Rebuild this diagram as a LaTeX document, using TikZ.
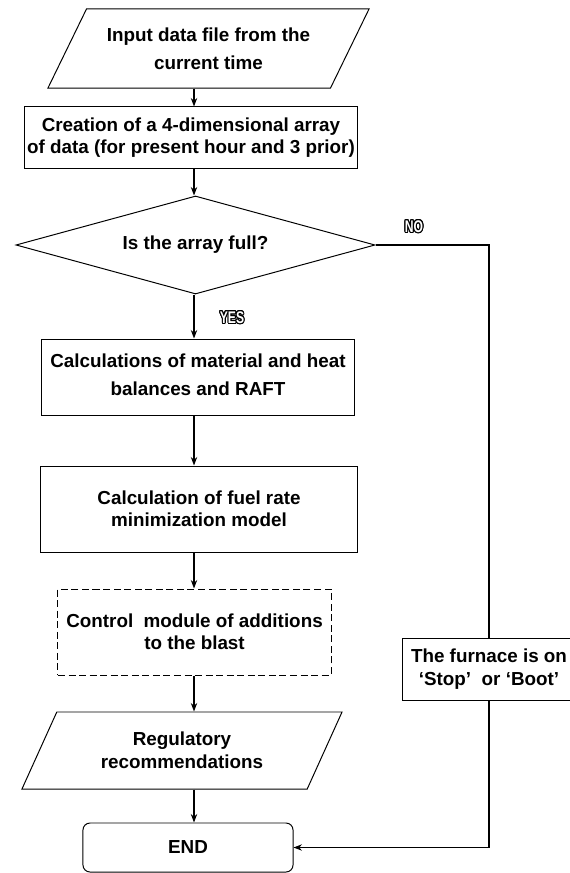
\documentclass[tikz,border=0pt]{standalone}
\usepackage{fontspec}
\setmainfont{Liberation Sans}
\newfontfamily\narrowfont[FakeStretch=0.72]{Liberation Sans}
\usepackage[copies]{contour}
\contourlength{0.7pt}
\contournumber{16}
\usetikzlibrary{shapes.geometric,arrows.meta}

\tikzset{
  box/.style={draw, line width=0.7pt, align=center, inner sep=2pt},
  iobox/.style={box, trapezium, trapezium stretches body=true},
  arr/.style={line width=1.3pt, -{Stealth[length=6pt,width=4.5pt]}},
  line/.style={line width=0.8pt},
  yesno/.style={font=\narrowfont\bfseries\fontsize{12}{12}\selectfont, text=white}
}

\begin{document}
\begin{tikzpicture}[x=0.025cm, y=-0.025cm, font=\bfseries\fontsize{13.4}{16}\selectfont]
\useasboundingbox[fill=white] (0,0) rectangle (570,873);

\coordinate (ax) at (194,0);

\node[iobox, trapezium left angle=51, trapezium right angle=129, minimum width=8.025cm, minimum height=1.975cm, font=\bfseries\fontsize{13.4}{20}\selectfont] (input) at (208.5,48.5) {Input data file from the\\current time};
\node[box, minimum width=8.05cm, minimum height=1.525cm] (create) at (191,137.5) {Creation of a 4-dimensional array\\of data (for present hour and 3 prior)};
\node[box, diamond, aspect=3.66, inner sep=0pt, minimum width=8.975cm, minimum height=2.45cm] (full) at (195.5,245) {Is the array full?};
\node[box, minimum width=7.8cm, minimum height=1.9cm, font=\bfseries\fontsize{13.4}{20}\selectfont] (calc) at (198,377) {Calculations of material and heat\\balances and RAFT\vphantom{g}};
\node[box, minimum width=7.9cm, minimum height=2.15cm] (model) at (199,509) {Calculation of fuel rate\\minimization model};
\node[box, dashed, dash pattern=on 5pt off 2.5pt, minimum width=6.825cm, minimum height=2.15cm] (control) at (194.5,632) {Control\ \ module of additions\\to the blast};
\node[iobox, trapezium left angle=50.3, trapezium right angle=129.7, minimum width=8cm, minimum height=1.925cm] (regul) at (182,750.5) {Regulatory\\recommendations};
\node[box, rounded corners=5pt, minimum width=5.25cm, minimum height=1.225cm] (end) at (188,847.5) {END};
\node[box, minimum width=4.3cm, minimum height=1.55cm] (furnace) at (489,669) {The furnace is on\\`Stop'\ \ or `Boot'};

\node[yesno] (no) at (414,227) {\contour{black}{NO}};
\node[yesno] (yes) at (232,318) {\contour{black}{YES}};

\draw[arr] (input.south -| ax) -- (create.north -| ax);
\draw[arr] (create.south -| ax) -- (full.north -| ax);
\draw[arr] (full.south -| ax) -- (calc.north -| ax);
\draw[arr] (calc.south -| ax) -- (model.north -| ax);
\draw[arr] (model.south -| ax) -- (control.north -| ax);
\draw[arr] (control.south -| ax) -- (regul.north -| ax);
\draw[arr] (regul.south -| ax) -- (end.north -| ax);

\draw[line] (full.east) -| (furnace.north);
\draw[line, -{Stealth[length=6pt,width=4.5pt]}] (furnace.south) |- (end.east);
\end{tikzpicture}
\end{document}
